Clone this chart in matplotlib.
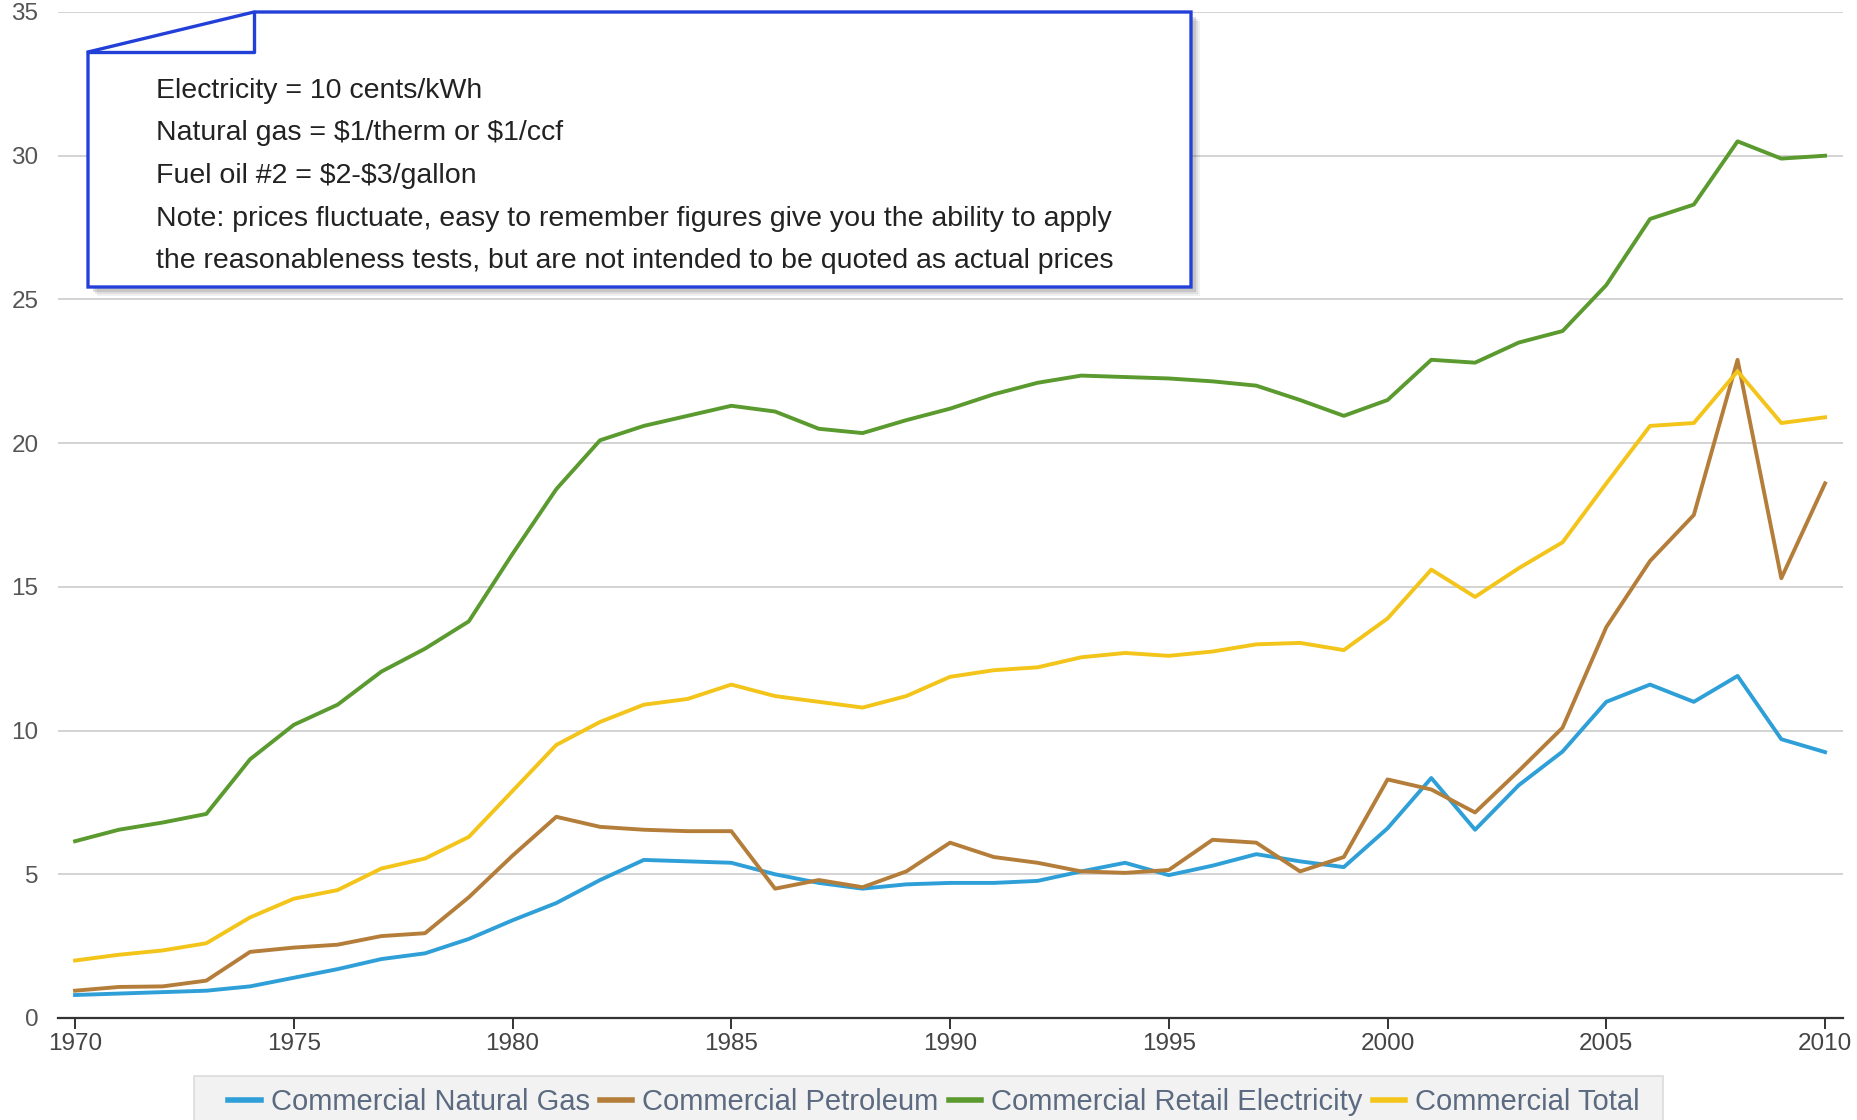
import matplotlib.pyplot as plt
from matplotlib.patches import Polygon, Rectangle

# --------------------------
# Data (cents per unit)
# --------------------------
years = list(range(1970, 2011))

natural_gas = [0.8, 0.85, 0.9, 0.95, 1.1, 1.4, 1.7, 2.05, 2.25, 2.75,
               3.4, 4.0, 4.8, 5.5, 5.45, 5.4, 5.0, 4.7, 4.5, 4.65,
               4.7, 4.7, 4.77, 5.1, 5.4, 4.97, 5.3, 5.7, 5.45, 5.25,
               6.6, 8.35, 6.55, 8.1, 9.27, 11.0, 11.6, 11.0, 11.9, 9.7,
               9.25]

petroleum = [0.95, 1.08, 1.1, 1.3, 2.3, 2.45, 2.55, 2.85, 2.95, 4.2,
             5.65, 7.0, 6.65, 6.55, 6.5, 6.5, 4.5, 4.8, 4.55, 5.1,
             6.1, 5.6, 5.4, 5.1, 5.05, 5.15, 6.2, 6.1, 5.1, 5.6,
             8.3, 7.95, 7.15, 8.6, 10.1, 13.6, 15.9, 17.5, 22.9, 15.3,
             18.6]

electricity = [6.15, 6.55, 6.8, 7.1, 9.0, 10.2, 10.9, 12.05, 12.85, 13.8,
               16.15, 18.4, 20.1, 20.6, 20.95, 21.3, 21.1, 20.5, 20.35, 20.8,
               21.2, 21.7, 22.1, 22.35, 22.3, 22.25, 22.15, 22.0, 21.5, 20.95,
               21.5, 22.9, 22.8, 23.5, 23.9, 25.5, 27.8, 28.3, 30.5, 29.9,
               30.0]

total = [2.0, 2.2, 2.35, 2.6, 3.5, 4.15, 4.45, 5.2, 5.55, 6.3,
         7.9, 9.5, 10.3, 10.9, 11.1, 11.6, 11.2, 11.0, 10.8, 11.2,
         11.87, 12.1, 12.2, 12.55, 12.7, 12.6, 12.75, 13.0, 13.05, 12.8,
         13.9, 15.6, 14.65, 15.65, 16.55, 18.6, 20.6, 20.7, 22.5, 20.7,
         20.9]

series_names = ["Commercial Natural Gas", "Commercial Petroleum",
                "Commercial Retail Electricity", "Commercial Total"]
series_colors = ["#2f9fd8", "#b47e3a", "#5a9a2f", "#f3c41a"]

xticks = list(range(1970, 2011, 5))
yticks = list(range(0, 36, 5))

note_lines = [
    "Electricity = 10 cents/kWh",
    "Natural gas = $1/therm or $1/ccf",
    "Fuel oil #2 = $2-$3/gallon",
    "Note: prices fluctuate, easy to remember figures give you the ability to apply",
    "the reasonableness tests, but are not intended to be quoted as actual prices",
]

plt.rcParams['font.family'] = ['Liberation Sans', 'DejaVu Sans']

W, H = 1858, 1120
fig = plt.figure(figsize=(W / 100, H / 100), dpi=100)
ax = fig.add_axes([58 / W, 1 - 1018 / H, (1843 - 58) / W, (1018 - 12) / H])

# --------------------------
# Lines
# --------------------------
for vals, name, col in zip([natural_gas, petroleum, electricity, total],
                           series_names, series_colors):
    ax.plot(years, vals, color=col, lw=2.8, label=name, zorder=3)

ax.set_xlim(1969.61, 2010.41)
ax.set_ylim(0, 35)
ax.set_xticks(xticks)
ax.set_yticks(yticks)
ax.set_yticklabels([str(v) for v in yticks])

for s in ["top", "right", "left"]:
    ax.spines[s].set_visible(False)
ax.spines["bottom"].set_color("#333333")
ax.spines["bottom"].set_linewidth(1.6)
ax.spines["bottom"].set_zorder(4)

ax.yaxis.grid(True, color="#c8c8c8", lw=1.1)
ax.set_axisbelow(True)
ax.tick_params(axis="y", length=0, pad=14, labelsize=17.5, labelcolor="#555555")
ax.tick_params(axis="x", length=8, width=1.4, color="#333333", pad=3,
               labelsize=17.5, labelcolor="#444444")
for lab in ax.get_yticklabels():
    lab.set_verticalalignment("center_baseline")

# --------------------------
# Overlay in pixel coords for the note box and legend panel
# --------------------------
ov = fig.add_axes([0, 0, 1, 1], zorder=5)
ov.set_xlim(0, W)
ov.set_ylim(H, 0)
ov.axis("off")
ov.patch.set_alpha(0)

box = [(88, 52), (254, 12), (1191, 12), (1191, 287), (88, 287)]
for k, a in [(9, 0.08), (7, 0.12), (5, 0.18)]:
    ov.add_patch(Polygon([(x + k, y + k) for x, y in box], closed=True,
                         facecolor="#555555", edgecolor="none", alpha=a))
ov.add_patch(Polygon(box, closed=True, facecolor="white",
                     edgecolor="#2240d8", lw=2.4))
ov.plot([254, 254, 88], [12, 52, 52], color="#2240d8", lw=2.4)

for i, line in enumerate(note_lines):
    ov.text(156, 91 + i * 42.5, line, fontsize=20.5, color="#222222",
            va="center", ha="left", parse_math=False)

ov.add_patch(Rectangle((194, 1076), 1663 - 194, 60, facecolor="#f2f2f2",
                       edgecolor="#dcdcdc", lw=1.2))

leg = fig.legend(*ax.get_legend_handles_labels(), loc="center", ncol=4,
                 bbox_to_anchor=(934 / W, 1 - 1102 / H), frameon=False,
                 fontsize=21, handlelength=1.1, handletextpad=0.35,
                 columnspacing=0.35, borderaxespad=0)
for t in leg.get_texts():
    t.set_color("#5b6a80")
for h in leg.legend_handles:
    h.set_linewidth(4)
leg.set_zorder(6)

fig.savefig("out.png", dpi=100)
